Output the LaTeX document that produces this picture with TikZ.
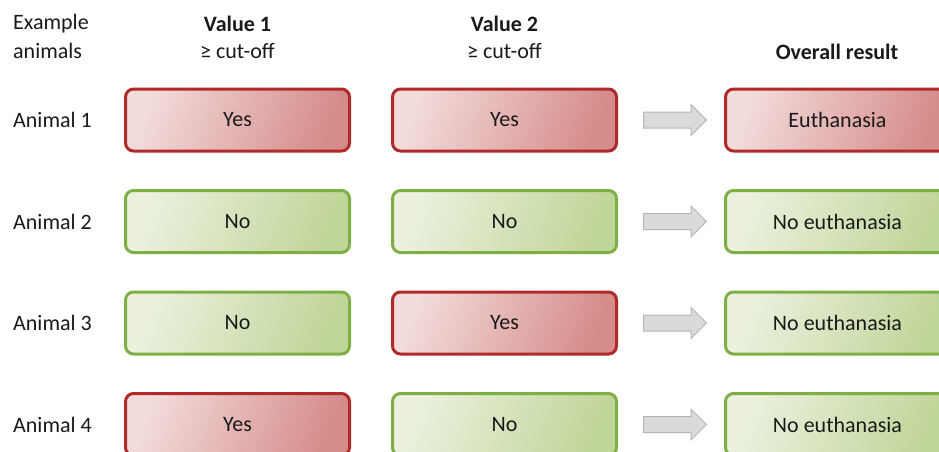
\documentclass[tikz,border=0pt]{standalone}
\usepackage{fontspec}
\setmainfont{Carlito}
\usetikzlibrary{shapes.arrows}
\definecolor{redA}{HTML}{F2DCDB}
\definecolor{redB}{HTML}{D58C8A}
\definecolor{redL}{HTML}{B02A2A}
\definecolor{grnA}{HTML}{EBF1DE}
\definecolor{grnB}{HTML}{C0D599}
\definecolor{grnL}{HTML}{7DAF45}
\definecolor{arrF}{HTML}{DADADA}
\definecolor{arrL}{HTML}{B5B5B5}
\definecolor{txt}{HTML}{1A1A1A}
\begin{document}
\begin{tikzpicture}[x=1pt,y=-1pt,
  every node/.style={font=\fontsize{22}{26}\selectfont, text=txt},
  box/.style={rounded corners=8pt, line width=3pt, minimum width=224pt, minimum height=62pt, inner sep=0pt},
  yesbox/.style={box, draw=redL, left color=redA, right color=redB, shading angle=70},
  nobox/.style={box, draw=grnL, left color=grnA, right color=grnB, shading angle=70},
  arr/.style={single arrow, draw=arrL, fill=arrF, line width=1pt, minimum height=63pt, inner xsep=0pt, inner ysep=7.5pt, single arrow head extend=7.5pt},
  lbl/.style={anchor=west, inner sep=0pt},
  hdr/.style={inner sep=0pt, font=\fontsize{22}{26}\selectfont\bfseries}
]
\useasboundingbox (0,0) rectangle (939,452);
\clip (0,0) rectangle (939,452);
% headers
\node[lbl] (ex1) at (13,24) {Example};
\node[lbl] (ex2) at (13,51) {animals};
\node[hdr] (h1) at (237.5,24) {Value 1};
\node[inner sep=0pt] (c1) at (237.5,51) {≥ cut-off};
\node[hdr] (h2) at (504.5,24) {Value 2};
\node[inner sep=0pt] (c2) at (504.5,51) {≥ cut-off};
\node[hdr] (h3) at (837,52) {Overall result};
% rows
\foreach \i/\y in {1/120, 2/221.5, 3/323, 4/424.5}{
  \node[lbl] (lab\i) at (13,\y) {Animal \i};
}
\node[yesbox] (v11) at (237.5,120) {Yes};
\node[yesbox] (v21) at (504.5,120) {Yes};
\node[yesbox] (r1) at (837.5,120) {Euthanasia};
\node[nobox] (v12) at (237.5,221.5) {No};
\node[nobox] (v22) at (504.5,221.5) {No};
\node[nobox] (r2) at (837.5,221.5) {No euthanasia};
\node[nobox] (v13) at (237.5,323) {No};
\node[yesbox] (v23) at (504.5,323) {Yes};
\node[nobox] (r3) at (837.5,323) {No euthanasia};
\node[yesbox] (v14) at (237.5,424.5) {Yes};
\node[nobox] (v24) at (504.5,424.5) {No};
\node[nobox] (r4) at (837.5,424.5) {No euthanasia};
% arrows
\node[arr] (a1) at (671,120) {};
\node[arr] (a2) at (671,221.5) {};
\node[arr] (a3) at (671,323) {};
\node[arr] (a4) at (671,424.5) {};
\end{tikzpicture}
\end{document}
